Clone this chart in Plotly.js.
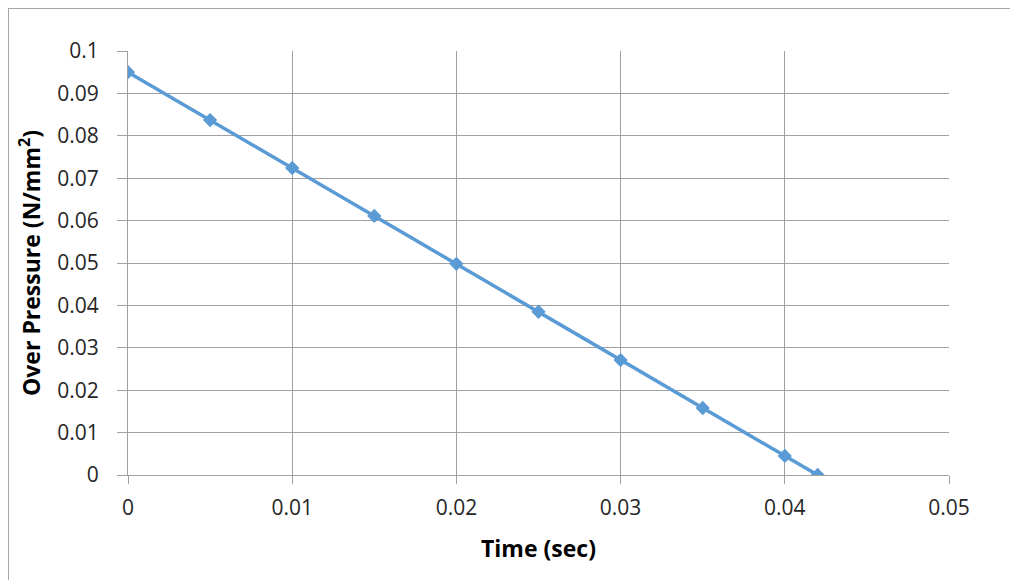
<!DOCTYPE html>
<html><head><meta charset="utf-8">
<script src="https://cdn.plot.ly/plotly-3.0.1.min.js"></script>
<style>
html,body{margin:0;padding:0;background:#fff;}
#wrap{position:relative;width:1010px;height:580px;overflow:hidden;}
#frame{position:absolute;left:8px;top:8px;width:1100px;height:700px;border:1px solid #a6a6a6;box-sizing:border-box;pointer-events:none;z-index:2;}
#chart{position:absolute;left:0;top:0;width:1010px;height:580px;}
</style></head>
<body><div id="wrap"><div id="chart"></div><div id="frame"></div></div>
<script>
const time = [0, 0.005, 0.01, 0.015, 0.02, 0.025, 0.03, 0.035, 0.04, 0.042];
const pressure = [0.095, 0.0837, 0.0724, 0.0611, 0.0498, 0.0385, 0.0271, 0.0158, 0.0045, 0];
const xTicks = [0, 0.01, 0.02, 0.03, 0.04, 0.05];
const xTickLabels = ['0', '0.01', '0.02', '0.03', '0.04', '0.05'];
const yTicks = [0, 0.01, 0.02, 0.03, 0.04, 0.05, 0.06, 0.07, 0.08, 0.09, 0.1];
const yTickLabels = ['0', '0.01', '0.02', '0.03', '0.04', '0.05', '0.06', '0.07', '0.08', '0.09', '0.1'];

const font = '"Open Sans", sans-serif';
Plotly.newPlot('chart', [{
  x: time, y: pressure, type: 'scatter', mode: 'lines+markers',
  line: {color: '#5B9BD5', width: 3.5},
  marker: {symbol: 'diamond', size: 11, color: '#5B9BD5'},
  hoverinfo: 'skip'
}], {
  width: 1010, height: 580,
  margin: {l: 128, r: 61, t: 51, b: 105},
  paper_bgcolor: '#fff', plot_bgcolor: '#fff',
  showlegend: false,
  font: {family: font, size: 21, color: '#262626'},
  xaxis: {
    range: [0, 0.05], tickvals: xTicks, ticktext: xTickLabels,
    showgrid: true, gridcolor: '#a0a0a0', gridwidth: 1,
    zeroline: false, showline: true, linecolor: '#a0a0a0', mirror: false,
    ticks: 'outside', ticklen: 8, tickcolor: '#a0a0a0',
    ticklabelstandoff: 6,
    tickfont: {family: font, size: 21, color: '#262626'},
    automargin: false,
    title: {text: '<b>Time (sec)</b>', font: {family: font, size: 23, color: '#000'}, standoff: 20}
  },
  yaxis: {
    range: [0, 0.1], tickvals: yTicks, ticktext: yTickLabels,
    showgrid: true, gridcolor: '#a0a0a0', gridwidth: 1,
    zeroline: false, showline: true, linecolor: '#a0a0a0',
    ticks: 'outside', ticklen: 10, tickcolor: '#a0a0a0',
    ticklabelstandoff: 14,
    tickfont: {family: font, size: 21, color: '#262626'},
    automargin: false,
    title: {text: '<b>Over Pressure (N/mm<sup>2</sup>)</b>', font: {family: font, size: 23, color: '#000'}, standoff: 10}
  }
}, {staticPlot: true});
</script></body></html>
